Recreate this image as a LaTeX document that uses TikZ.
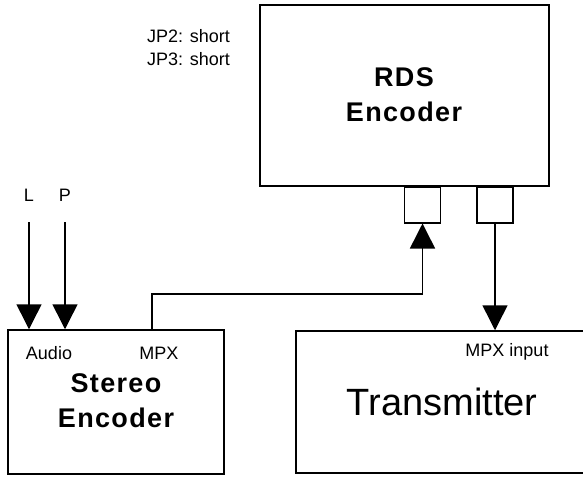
\documentclass[tikz,border=0pt]{standalone}
\usepackage{fontspec}
\setmainfont{Liberation Sans}
\newfontfamily\widefont[LetterSpace=5]{Liberation Sans}
\usepackage{tikz}
\usetikzlibrary{arrows.meta,positioning}
\definecolor{wireblk}{HTML}{000000}
\tikzset{
  blk/.style={rectangle,draw=wireblk,line width=1.5pt,inner sep=0pt},
  port/.style={rectangle,draw=wireblk,line width=1.5pt,inner sep=0pt,minimum width=36pt,minimum height=36pt},
  title/.style={font=\widefont\bfseries\fontsize{27}{31}\selectfont,inner sep=0pt},
  lbl/.style={font=\fontsize{18}{22}\selectfont,inner sep=0pt},
  sig/.style={wireblk,line width=1.5pt,-{Triangle[length=25pt,width=25pt]}}
}
\begin{document}
\begin{tikzpicture}[x=1pt,y=-1pt]
\useasboundingbox (0,0) rectangle (583,477);
\clip (0,0) rectangle (583,477);
% blocks
\node[blk,minimum width=289pt,minimum height=181pt] (rds) at (404.5,95.5){};
\node[blk,minimum width=216pt,minimum height=144pt] (stereo) at (116,402){};
\node[blk,minimum width=304pt,minimum height=142pt] (tx) at (448,402){};
\node[port,anchor=north] (pin) at (422.5,186){};
\node[port,anchor=north] (pout) at (495,186){};
% texts
\node[title] (rdsA) at (404,77){RDS};
\node[title] (rdsB) at (404,112){Encoder};
\node[title] (stA) at (116,383){Stereo};
\node[title] (stB) at (116,418){Encoder};
\node[font=\fontsize{38}{44}\selectfont,inner sep=0pt] (txA) at (442,402){Transmitter};
\node[lbl] (audio) at (49,353){Audio};
\node[lbl] (mpx) at (159,353){MPX};
\node[lbl] (mpxin) at (507,352){MPX input};
\node[lbl,anchor=west,align=left,font=\fontsize{18}{23}\selectfont] (jp) at (147,48){JP2: short\\JP3: short};
% audio inputs
\foreach \ch/\cx in {L/29,P/65}{
  \node[lbl] (in\ch) at (\cx,195){\ch};
  \coordinate (top\ch) at (\cx,222);
  \draw[sig] (top\ch) -- (top\ch |- stereo.north);
}
% MPX paths
\coordinate (mpxout) at (152,330);
\draw[sig] (mpxout) -- ++(0,-36) -| (pin.south);
\draw[sig] (pout.south) -- (pout.south |- tx.north);
\end{tikzpicture}
\end{document}
